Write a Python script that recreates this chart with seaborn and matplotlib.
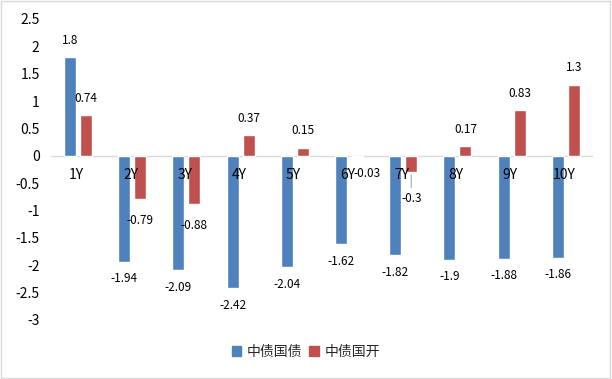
import numpy as np
import pandas as pd
import matplotlib
matplotlib.use("Agg")
import matplotlib.pyplot as plt
from matplotlib.patches import Rectangle
import seaborn as sns

# --- dane ---
tenors = ['1Y', '2Y', '3Y', '4Y', '5Y', '6Y', '7Y', '8Y', '9Y', '10Y']
guozhai = [1.8, -1.94, -2.09, -2.42, -2.04, -1.62, -1.82, -1.9, -1.88, -1.86]
guokai = [0.74, -0.79, -0.88, 0.37, 0.15, -0.03, -0.3, 0.17, 0.83, 1.3]
series_names = ['中债国债', '中债国开']
colors = ['#4F81BD', '#C0504D']
y_ticks = [2.5, 2, 1.5, 1, 0.5, 0, -0.5, -1, -1.5, -2, -2.5, -3]

sns.set_theme(style='white')
plt.rcParams['font.family'] = ['Noto Sans CJK SC', 'DejaVu Sans']

df = pd.DataFrame({
    'tenor': tenors * 2,
    'value': guozhai + guokai,
    'series': [series_names[0]] * len(tenors) + [series_names[1]] * len(tenors),
})

fig = plt.figure(figsize=(6.12, 3.79), dpi=100)
ax = fig.add_axes([0.083, 0.156, 0.886, 0.794])

sns.barplot(data=df, x='tenor', y='value', hue='series', order=tenors,
            hue_order=series_names, palette=colors, width=0.59, gap=0.25,
            saturation=1, legend=False, ax=ax, zorder=2)

ax.set_ylim(-3, 2.5)
ax.set_xlim(-0.5, len(tenors) - 0.5)
ax.set_yticks(y_ticks)
ax.set_yticklabels([f'{t:g}' for t in y_ticks], fontsize=10, color='#000000')
ax.tick_params(axis='y', length=0, pad=8)
ax.set_xticks([])
ax.set_xlabel('')
ax.set_ylabel('')
for s in ax.spines.values():
    s.set_visible(False)
ax.axhline(0, color='#D9D9D9', lw=1, zorder=1)

# etykiety kategorii przy osi zero
for i, t in enumerate(tenors):
    ax.text(i - 0.03, -0.35, t, ha='center', va='center', fontsize=10, color='#000000', zorder=3)

# etykiety danych
red_tweaks = {5: (7, -16), 6: (0, -26)}  # (dx, dy) w pikselach dla wybranych
for k, (cont, vals) in enumerate(zip(ax.containers, [guozhai, guokai])):
    for i, (bar, v) in enumerate(zip(cont, vals)):
        xc = bar.get_x() + bar.get_width() / 2
        dy = 17 if v >= 0 else -17
        dx = 0
        if k == 1 and v < 0:
            dy = -22
        if k == 1 and i in red_tweaks:
            dx, dy = red_tweaks[i]
        ax.annotate(f'{v:g}', xy=(xc, v), xytext=(dx, dy * 0.72),
                    textcoords='offset points', ha='center', va='center',
                    fontsize=8.5, color='#000000', zorder=4)
        if k == 1 and i == 6:
            ax.annotate('', xy=(xc, v), xytext=(xc, v - 0.33),
                        arrowprops=dict(arrowstyle='-', color='#A6A6A6', lw=0.8))

handles = [Rectangle((0, 0), 1, 1, color=c) for c in colors]
fig.legend(handles, series_names, loc='center', bbox_to_anchor=(0.5, 0.071),
           ncol=2, frameon=False, fontsize=10, handlelength=0.7, handleheight=0.7,
           handletextpad=0.4, columnspacing=0.5)

fig.patches.append(Rectangle((0.002, 0.003), 0.995, 0.994, transform=fig.transFigure,
                             fill=False, edgecolor='#D9D9D9', lw=1))

fig.savefig('out.png', dpi=100)
